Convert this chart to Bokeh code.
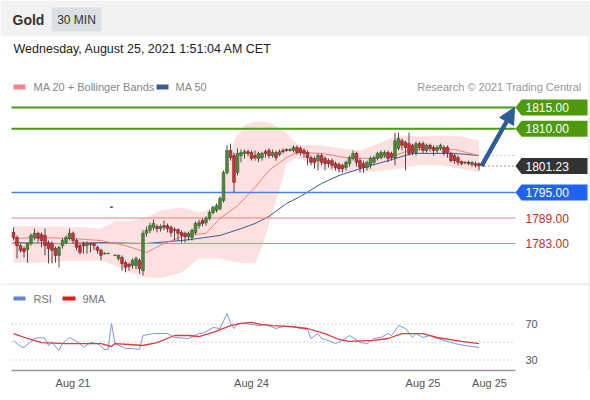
import numpy as np
from bokeh.plotting import figure
from bokeh.models import Range1d, FixedTicker, Arrow, NormalHead
from bokeh.layouts import column
from bokeh.embed import file_html
from bokeh.resources import INLINE
from bokeh.core.properties import value

FONT = "Liberation Sans"

# ---------------- data ----------------
opens = [1785.6, 1784.4, 1782.5, 1781.8, 1781.6, 1783.0, 1784.4, 1785.4, 1785.1, 1784.9,
         1783.2, 1783.0, 1781.8, 1780.2, 1782.5, 1783.2, 1784.2, 1785.4, 1783.7, 1782.5,
         1783.0, 1782.5, 1783.0, 1783.0, 1782.1, 1781.4, 1780.6, 1780.6, 1791.5, 1780.2,
         1779.5, 1779.7, 1778.5, 1778.1, 1777.8, 1777.8, 1779.0, 1776.6, 1785.4, 1786.1,
         1786.8, 1787.0, 1786.5, 1787.2, 1787.2, 1786.8, 1786.3, 1786.3, 1785.6, 1785.4,
         1784.6, 1784.4, 1785.6, 1787.2, 1788.4, 1787.9, 1788.9, 1790.3, 1790.8, 1791.2,
         1793.1, 1799.7, 1804.9, 1803.7, 1799.7, 1803.7, 1804.2, 1804.6, 1804.4, 1803.7,
         1803.0, 1803.2, 1804.6, 1804.9, 1803.7, 1804.4, 1803.9, 1804.9, 1805.1, 1804.9,
         1804.9, 1805.6, 1805.4, 1804.9, 1804.4, 1803.2, 1803.0, 1802.5, 1803.7, 1803.0,
         1802.5, 1802.5, 1801.8, 1801.6, 1801.4, 1800.9, 1801.8, 1803.0, 1804.2, 1802.5,
         1801.8, 1800.9, 1801.4, 1802.1, 1803.0, 1803.2, 1803.7, 1804.4, 1804.2, 1803.2,
         1805.4, 1807.2, 1806.8, 1806.5, 1806.1, 1804.4, 1806.5, 1806.5, 1804.9, 1806.1,
         1805.6, 1804.9, 1805.4, 1805.6, 1805.6, 1804.2, 1803.7, 1803.2, 1802.3, 1802.1,
         1802.1, 1801.6, 1801.8, 1801.8]
closes = [1784.4, 1782.5, 1781.4, 1781.1, 1783.0, 1784.9, 1785.4, 1784.2, 1783.7, 1782.5,
          1781.8, 1781.4, 1780.2, 1782.1, 1783.7, 1784.4, 1785.4, 1783.7, 1782.1, 1780.9,
          1782.5, 1783.0, 1782.8, 1782.5, 1781.4, 1780.2, 1780.6, 1780.6, 1791.5, 1780.2,
          1780.2, 1778.3, 1777.4, 1777.6, 1779.0, 1779.5, 1777.1, 1785.4, 1786.1, 1787.2,
          1787.7, 1786.5, 1787.0, 1786.8, 1786.5, 1785.6, 1786.1, 1785.4, 1784.9, 1784.6,
          1785.4, 1786.1, 1787.7, 1787.9, 1787.7, 1788.9, 1790.3, 1791.5, 1791.9, 1793.6,
          1799.7, 1804.9, 1803.2, 1797.4, 1804.2, 1804.4, 1804.6, 1804.2, 1803.0, 1803.2,
          1804.2, 1804.2, 1804.2, 1803.7, 1804.4, 1803.2, 1804.6, 1804.6, 1804.9, 1805.1,
          1805.6, 1804.4, 1804.4, 1804.2, 1803.2, 1802.1, 1802.1, 1803.7, 1802.1, 1801.8,
          1801.8, 1801.4, 1800.9, 1800.6, 1800.6, 1802.1, 1803.2, 1804.2, 1802.1, 1800.9,
          1800.9, 1802.1, 1803.0, 1803.2, 1804.2, 1804.4, 1804.4, 1803.0, 1803.2, 1807.2,
          1807.7, 1806.1, 1805.6, 1804.2, 1804.4, 1806.5, 1805.6, 1804.9, 1806.1, 1805.4,
          1804.9, 1805.6, 1806.1, 1804.4, 1804.4, 1802.5, 1802.5, 1802.1, 1801.8, 1802.0,
          1801.8, 1802.1, 1801.4, 1801.23]
highs = [1786.8, 1784.9, 1783.0, 1782.3, 1783.2, 1785.4, 1786.5, 1785.8, 1785.6, 1786.5,
         1783.7, 1783.5, 1782.3, 1782.5, 1784.2, 1784.9, 1786.5, 1785.8, 1784.2, 1783.0,
         1783.5, 1783.5, 1783.2, 1783.2, 1782.5, 1781.8, 1780.9, 1780.8, 1791.6, 1780.3,
         1780.4, 1780.2, 1779.0, 1778.5, 1779.5, 1779.9, 1779.5, 1786.1, 1787.0, 1787.9,
         1788.6, 1787.5, 1787.5, 1788.4, 1787.7, 1787.2, 1786.8, 1786.5, 1786.1, 1785.8,
         1785.8, 1786.5, 1788.2, 1788.6, 1788.9, 1789.4, 1790.8, 1791.9, 1792.4, 1794.1,
         1800.2, 1806.1, 1806.5, 1804.4, 1805.4, 1805.1, 1805.1, 1805.1, 1804.9, 1804.9,
         1804.6, 1804.6, 1805.1, 1805.4, 1805.1, 1804.9, 1805.1, 1805.4, 1805.4, 1805.4,
         1806.1, 1806.1, 1805.8, 1805.4, 1804.9, 1803.7, 1803.5, 1804.2, 1804.2, 1803.5,
         1803.0, 1803.0, 1802.3, 1802.1, 1801.8, 1802.5, 1803.7, 1804.9, 1804.6, 1803.0,
         1802.5, 1802.5, 1803.5, 1803.7, 1804.6, 1804.9, 1804.9, 1804.9, 1804.6, 1809.1,
         1809.1, 1807.7, 1807.2, 1809.1, 1806.5, 1807.0, 1807.0, 1807.0, 1806.5, 1806.5,
         1806.1, 1806.1, 1806.5, 1806.1, 1806.1, 1804.6, 1804.2, 1803.7, 1802.5, 1802.3,
         1802.5, 1802.3, 1802.3, 1802.1]
lows = [1783.7, 1779.5, 1780.9, 1779.7, 1778.5, 1782.5, 1783.7, 1783.2, 1782.1, 1780.2,
        1778.3, 1778.3, 1778.5, 1777.4, 1781.8, 1782.8, 1783.7, 1783.0, 1781.4, 1780.4,
        1780.6, 1780.6, 1780.9, 1781.4, 1780.6, 1779.0, 1780.4, 1780.5, 1791.4, 1780.1,
        1779.0, 1776.6, 1776.2, 1776.6, 1777.1, 1776.9, 1775.9, 1775.5, 1784.6, 1785.4,
        1786.1, 1785.6, 1785.8, 1786.1, 1785.6, 1784.6, 1783.7, 1783.7, 1783.2, 1783.2,
        1783.7, 1783.7, 1785.1, 1786.5, 1787.0, 1787.2, 1788.4, 1789.8, 1790.3, 1790.8,
        1792.6, 1799.2, 1802.5, 1795.0, 1799.0, 1802.1, 1803.0, 1803.5, 1802.5, 1802.5,
        1802.1, 1802.5, 1803.2, 1803.0, 1803.2, 1802.5, 1803.5, 1804.2, 1804.6, 1804.6,
        1804.4, 1803.9, 1803.7, 1803.2, 1801.4, 1801.4, 1800.6, 1800.2, 1801.4, 1800.2,
        1800.9, 1800.6, 1800.2, 1799.7, 1799.7, 1800.2, 1801.1, 1802.5, 1801.1, 1799.7,
        1799.7, 1800.2, 1800.6, 1801.6, 1802.5, 1802.8, 1803.2, 1802.1, 1802.5, 1801.4,
        1804.9, 1804.9, 1800.2, 1803.7, 1803.7, 1803.7, 1804.9, 1804.2, 1804.4, 1804.6,
        1803.7, 1804.2, 1804.9, 1803.7, 1803.2, 1802.1, 1801.8, 1801.4, 1801.4, 1801.6,
        1801.4, 1801.1, 1800.9, 1800.2]

# Bollinger bands (sampled at candle indices)
bb_idx = [0, 8, 16, 25, 29, 33, 38, 42, 48, 53, 59, 61, 63, 66, 69, 71, 73, 75, 77, 78,
          81, 83, 88, 93, 99, 105, 110, 116, 122, 128, 133]
bb_upper = [1787.2, 1787.0, 1787.0, 1786.5, 1788.2, 1788.2, 1789.1, 1790.8, 1791.5, 1790.3,
            1791.9, 1800.2, 1807.2, 1810.8, 1811.7, 1811.7, 1811.5, 1810.6, 1809.6, 1808.8,
            1806.5, 1806.1, 1806.1, 1805.4, 1804.9, 1806.8, 1808.4, 1808.2, 1808.4, 1808.2,
            1807.2]
bb_lower = [1778.5, 1778.5, 1779.0, 1779.0, 1777.8, 1776.2, 1775.0, 1774.8, 1776.2, 1779.5,
            1779.5, 1779.0, 1778.7, 1778.4, 1778.3, 1782.1, 1787.5, 1793.1, 1798.5, 1801.8,
            1803.2, 1802.5, 1800.6, 1799.7, 1799.7, 1800.2, 1800.6, 1801.4, 1801.4, 1800.6,
            1799.7]

ma20_idx = [0, 8, 16, 25, 32, 38, 43, 49, 55, 59, 64, 69, 73, 78, 81, 88, 95, 102, 109,
            113, 119, 126, 133]
ma20_val = [1784.2, 1784.4, 1784.2, 1783.7, 1782.5, 1780.9, 1783.0, 1784.9, 1785.4, 1788.9,
            1791.9, 1796.2, 1800.2, 1803.2, 1804.4, 1804.2, 1803.2, 1803.0, 1803.7, 1804.9,
            1805.4, 1805.1, 1803.7]

ma50_idx = [0, 13, 25, 38, 48, 53, 59, 65, 69, 73, 78, 82, 88, 93, 99, 107, 114, 126, 133]
ma50_val = [1783.2, 1783.0, 1783.2, 1783.0, 1783.7, 1784.2, 1784.9, 1786.5, 1787.7, 1789.4,
            1792.4, 1794.1, 1797.1, 1799.0, 1800.6, 1802.5, 1804.2, 1804.2, 1803.7]

rsi_idx = [0, 2, 3, 6, 8, 9, 10, 11, 13, 14, 16, 19, 20, 22, 24, 26, 27, 28, 29, 32, 34,
           36, 37, 40, 44, 46, 50, 53, 54, 57, 59, 61, 62, 63, 64, 66, 70, 72, 75, 77, 80,
           82, 84, 85, 87, 88, 90, 92, 94, 96, 97, 99, 101, 103, 105, 107, 108, 110, 112,
           114, 115, 117, 119, 121, 123, 126, 129, 133]
rsi_val = [51.7, 45.0, 43.9, 53.9, 55.0, 53.9, 46.1, 49.4, 40.6, 48.3, 55.0, 48.3, 43.9,
           49.4, 48.3, 41.7, 41.7, 70.6, 48.3, 42.8, 42.8, 41.7, 57.2, 59.4, 59.4, 55.0,
           53.9, 59.4, 59.4, 66.1, 65.0, 81.7, 70.6, 65.0, 70.6, 70.6, 68.3, 69.4, 65.0,
           67.2, 67.2, 65.0, 63.9, 53.9, 59.4, 53.9, 51.7, 48.3, 51.7, 57.2, 55.0, 49.4,
           48.3, 53.9, 55.0, 59.4, 57.2, 68.3, 65.0, 55.0, 59.4, 55.0, 57.2, 53.9, 51.7,
           48.3, 46.1, 43.9]

ma9_idx = [0, 4, 8, 15, 22, 25, 28, 29, 33, 37, 41, 46, 50, 53, 57, 62, 65, 68, 71, 74,
           79, 84, 89, 93, 96, 103, 107, 111, 117, 121, 128, 133]
ma9_val = [59.4, 53.9, 49.4, 48.3, 48.3, 48.3, 45.0, 48.3, 47.2, 46.1, 49.4, 57.2, 57.2,
           56.1, 60.6, 68.3, 70.6, 71.7, 69.4, 68.3, 67.2, 65.0, 59.4, 52.8, 50.6, 51.7,
           53.9, 59.4, 59.4, 55.0, 50.6, 48.3]

levels = [1815.0, 1810.0, 1795.0, 1789.0, 1783.0]
level_labels = ["1815.00", "1810.00", "1795.00", "1789.00", "1783.00"]
last_price = 1801.23
last_label = "1801.23"
rsi_levels = [70, 50, 30]
rsi_level_labels = ["70", "30"]
tick_idx = [17, 68, 117, 136]
tick_labels = ["Aug 21", "Aug 24", "Aug 25", "Aug 25"]

# ---------------- layout helpers (reference pixel -> data) ----------------
W = 590
X0, DX = 13.0, 3.5


def px2i(X):
    return (X - X0) / DX


def py2p(Y):
    return 1815.0 - (Y - 107.0) / 4.25


def py2r(Y):
    return 70.0 - (Y - 323.5) / 0.9


L_END, R_END = px2i(11), px2i(515)


def base_fig(height, xr, yr, **kw):
    f = figure(width=W, height=height, x_range=xr, y_range=yr, output_backend="svg",
               toolbar_location=None, min_border=0, outline_line_color=None,
               background_fill_color="white", border_fill_color="white", **kw)
    f.grid.visible = False
    return f


def txt(f, x, y, s, size="11px", color="#777", align="left", style="normal", baseline="middle"):
    f.text(x=[x], y=[y], text=[s], text_font=value(FONT), text_font_size=size,
           text_color=color, text_align=align, text_baseline=baseline,
           text_font_style=style)


# ---------------- header ----------------
ph = base_fig(95, Range1d(0, 590), Range1d(95, 0), x_axis_location=None, y_axis_location=None)
ph.quad(left=[0], right=[590], top=[0], bottom=[35.5], fill_color="#f2f2f2", line_color=None)
ph.quad(left=[51], right=[101], top=[7], bottom=[31], fill_color="#dcdfe3", line_color=None)
ph.segment(x0=[588.5], y0=[35.5], x1=[588.5], y1=[95], line_color="#e8e8e8", line_width=1)
txt(ph, 12, 19.5, "Gold", size="14px", color="#333", style="bold")
txt(ph, 76, 19.5, "30 MIN", size="12px", color="#333", align="center")
txt(ph, 13, 48.5, "Wednesday, August 25, 2021 1:51:04 AM CET", size="12.5px", color="#222")
ph.quad(left=[13], right=[25], top=[84], bottom=[89], fill_color="#f4868a", line_color=None)
txt(ph, 33, 86.5, "MA 20 + Bollinger Bands", size="11px", color="#888")
ph.quad(left=[156], right=[168], top=[84], bottom=[89], fill_color="#3b5b9a", line_color=None)
txt(ph, 175, 86.5, "MA 50", size="11px", color="#888")
txt(ph, 581, 86.5, "Research \u00a9 2021 Trading Central", size="11px", color="#9a9a9a", align="right")

# ---------------- price panel ----------------
pp = base_fig(188, Range1d(px2i(0), px2i(590)), Range1d(py2p(283), py2p(95)),
              x_axis_location=None, y_axis_location=None)

pp.varea(x=bb_idx, y1=bb_lower, y2=bb_upper, fill_color="#fbc8c8", fill_alpha=0.55)

pp.line(ma50_idx, ma50_val, line_color="#3d5a96", line_width=1)
pp.line(ma20_idx, ma20_val, line_color="#f07f7f", line_width=1)

level_colors = ["#4d9a12", "#4d9a12", "#4a80e6", "#e88080", "#e88080"]
level_widths = [2, 2, 1.5, 1.2, 1.2]
for lv, c, w in zip(levels, level_colors, level_widths):
    pp.segment(x0=[L_END], y0=[lv], x1=[R_END], y1=[lv], line_color=c, line_width=w)

idx = np.arange(len(opens))
o, c, h, l = map(np.asarray, (opens, closes, highs, lows))
top = np.maximum(o, c)
bot = np.minimum(o, c)
pp.segment(x0=idx, y0=np.minimum(l, bot), x1=idx, y1=np.maximum(h, top), line_color="#4a4a4a", line_width=1)
up = c >= o
bh = np.maximum(top - bot, 0.12)
pp.vbar(x=idx[up], bottom=bot[up], top=bot[up] + bh[up], width=0.78,
        fill_color="#4a8a3a", line_color="#2f5f25", line_width=0.6)
pp.vbar(x=idx[~up], bottom=bot[~up], top=bot[~up] + bh[~up], width=0.78,
        fill_color="#c8343a", line_color="#7a1f22", line_width=0.6)

# dotted projections from the last candle
pp.segment(x0=[px2i(484)], y0=[ma50_val[-1]], x1=[R_END], y1=[ma50_val[-1]],
           line_color="#9a9a9a", line_dash="1 3", line_width=1)
pp.segment(x0=[px2i(484)], y0=[last_price], x1=[R_END], y1=[last_price],
           line_color="#333333", line_dash="1 3", line_width=1.2)

# forecast arrow
pp.add_layout(Arrow(end=NormalHead(size=16, fill_color="#2d5c9a", line_color="#2d5c9a"),
                    x_start=px2i(481), y_start=last_price, x_end=px2i(514), y_end=levels[0],
                    line_color="#2d5c9a", line_width=4.5))


# right-side price tags
def tag(f, yv, s, fill, tcol="white"):
    hh = 8.0 / 4.25
    xs = [px2i(515), px2i(521), px2i(587), px2i(587), px2i(521)]
    ys = [yv, yv + hh, yv + hh, yv - hh, yv - hh]
    f.patch(xs, ys, fill_color=fill, line_color=None)
    txt(f, px2i(525), yv, s, size="12px", color=tcol)


tag(pp, levels[0], level_labels[0], "#4e9a0c")
tag(pp, levels[1], level_labels[1], "#4e9a0c")
tag(pp, last_price, last_label, "#333333")
tag(pp, levels[2], level_labels[2], "#1f63ee")
txt(pp, px2i(525), levels[3], level_labels[3], size="12px", color="#cc2a2a")
txt(pp, px2i(525), levels[4], level_labels[4], size="12px", color="#cc2a2a")
pp.segment(x0=[px2i(588.5)], y0=[py2p(95)], x1=[px2i(588.5)], y1=[py2p(283)],
           line_color="#e8e8e8", line_width=1)

# ---------------- RSI panel ----------------
pr = base_fig(117, pp.x_range, Range1d(py2r(370), py2r(283)), y_axis_location=None,
              x_axis_location="below", min_border_bottom=30)
pr.segment(x0=[px2i(0)], y0=[py2r(283.5)], x1=[px2i(590)], y1=[py2r(283.5)],
           line_color="#e6e6e6", line_width=1.5)
pr.segment(x0=[px2i(588.5)], y0=[py2r(283)], x1=[px2i(588.5)], y1=[py2r(370)],
           line_color="#e8e8e8", line_width=1)
for rl in rsi_levels:
    pr.segment(x0=[L_END], y0=[rl], x1=[R_END], y1=[rl], line_color="#a8a8a8",
               line_dash="1 3", line_width=1)
pr.line(rsi_idx, rsi_val, line_color="#7b97e2", line_width=1)
pr.line(ma9_idx, ma9_val, line_color="#e23b3b", line_width=1.3)
txt(pr, px2i(525), rsi_levels[0], rsi_level_labels[0], size="11px", color="#555")
txt(pr, px2i(525), rsi_levels[2], rsi_level_labels[1], size="11px", color="#555")

pr.quad(left=[px2i(13)], right=[px2i(25)], top=[py2r(296)], bottom=[py2r(300)],
        fill_color="#6185d8", line_color=None)
txt(pr, px2i(33), py2r(298.5), "RSI", size="11px", color="#777")
pr.quad(left=[px2i(62)], right=[px2i(75)], top=[py2r(296)], bottom=[py2r(300)],
        fill_color="#e31a1c", line_color=None)
txt(pr, px2i(82), py2r(298.5), "9MA", size="11px", color="#777")

ax = pr.xaxis[0]
ax.ticker = FixedTicker(ticks=tick_idx)
ax.major_label_overrides = {t: s for t, s in zip(tick_idx, tick_labels)}
ax.bounds = (L_END, R_END)
ax.axis_line_color = "#9a9a9a"
ax.axis_line_width = 1.5
ax.major_tick_line_color = None
ax.major_tick_out = 0
ax.major_tick_in = 0
ax.minor_tick_line_color = None
ax.minor_tick_out = 0
ax.major_label_text_font = FONT
ax.major_label_text_font_size = "11px"
ax.major_label_text_color = "#555"
ax.major_label_standoff = 6

layout = column(ph, pp, pr, spacing=0)
open("out.html", "w").write(file_html(layout, INLINE, title="Gold 30 MIN"))
